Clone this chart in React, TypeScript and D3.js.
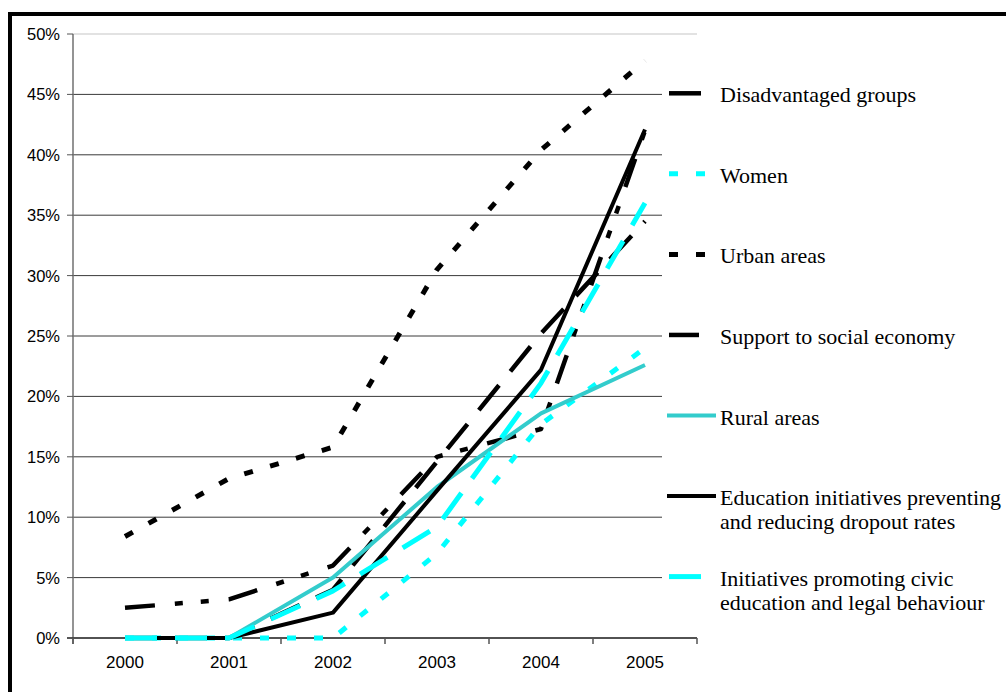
import React from "react";
import * as d3 from "d3";

// Years on the category axis
const years = ["2000", "2001", "2002", "2003", "2004", "2005"];

// Share of projects per priority theme (fractions)
const disadvantagedGroups = [0, 0, 0.04, 0.146, 0.252, 0.345];
const women = [0, 0, 0, 0.07, 0.177, 0.24];
const urbanAreas = [0.084, 0.132, 0.158, 0.305, 0.404, 0.478];
const socialEconomy = [0.025, 0.032, 0.06, 0.15, 0.173, 0.42];
const ruralAreas = [0, 0, 0.05, 0.125, 0.186, 0.226];
const educationDropout = [0, 0, 0.021, 0.122, 0.222, 0.421];
const civicEducation = [0, 0, 0.039, 0.092, 0.211, 0.36];

const yTicks = [0, 0.05, 0.1, 0.15, 0.2, 0.25, 0.3, 0.35, 0.4, 0.45, 0.5];

type Series = {
  name: string[];
  values: number[];
  color: string;
  width: number;
  dash: string | null;
  sampleFrom: number;
  sampleTo: number;
};

const series: Series[] = [
  { name: ["Disadvantaged groups"], values: disadvantagedGroups, color: "#000000", width: 4.5, dash: "32 18", sampleFrom: 669, sampleTo: 707 },
  { name: ["Women"], values: women, color: "#00FFFF", width: 5, dash: "9 18", sampleFrom: 669, sampleTo: 707 },
  { name: ["Urban areas"], values: urbanAreas, color: "#000000", width: 5, dash: "9 18", sampleFrom: 669, sampleTo: 707 },
  { name: ["Support to social economy"], values: socialEconomy, color: "#000000", width: 4.5, dash: "30 20 8 18 8 20", sampleFrom: 669, sampleTo: 707 },
  { name: ["Rural areas"], values: ruralAreas, color: "#33CCCC", width: 4, dash: null, sampleFrom: 667, sampleTo: 716 },
  { name: ["Education initiatives preventing", "and reducing dropout rates"], values: educationDropout, color: "#000000", width: 4, dash: null, sampleFrom: 667, sampleTo: 716 },
  { name: ["Initiatives promoting civic", "education and legal behaviour"], values: civicEducation, color: "#00FFFF", width: 5, dash: "32 18", sampleFrom: 669, sampleTo: 707 },
];

const W = 1006;
const H = 692;
const left = 73;
const right = 697;
const top = 34;
const bottom = 638;

export default function App() {
  const x = d3.scaleBand<string>().domain(years).range([left, right]).padding(0);
  const cx = (yr: string) => (x(yr) ?? 0) + x.bandwidth() / 2;
  const y = d3.scaleLinear().domain([0, 0.5]).range([bottom, top]);
  const fmt = d3.format(".0%");

  const line = d3
    .line<number>()
    .x((_, i) => cx(years[i]))
    .y((v) => y(v));

  const legendY0 = 93.3;
  const legendStep = 80.55;
  const tickBounds = [...years.map((yr) => x(yr) ?? 0), right];

  return (
    <svg
      width={W}
      height={H}
      style={{ position: "absolute", left: 0, top: 0, background: "#fff" }}
    >
      <rect x={0} y={0} width={W} height={H} fill="#fff" />

      {/* horizontal gridlines */}
      {yTicks.map((t) => (
        <line
          key={"g" + t}
          x1={left}
          x2={right}
          y1={y(t)}
          y2={y(t)}
          stroke={t === 0.5 ? "#e2e2e2" : "#3a3a3a"}
          strokeWidth={t === 0.5 ? 2 : 1}
        />
      ))}

      {/* y axis */}
      <line x1={left} x2={left} y1={top} y2={bottom + 6} stroke="#707070" strokeWidth={1.5} />
      {yTicks.map((t) => (
        <g key={"yt" + t}>
          <line x1={left - 6} x2={left} y1={y(t)} y2={y(t)} stroke="#555" strokeWidth={1} />
          <text
            x={60}
            y={y(t) + 6}
            textAnchor="end"
            fontFamily="Liberation Sans, Arial, sans-serif"
            fontSize={16.5}
            fill="#000"
          >
            {fmt(t)}
          </text>
        </g>
      ))}

      {/* x axis */}
      <line x1={left - 6} x2={right} y1={bottom} y2={bottom} stroke="#3a3a3a" strokeWidth={1.5} />
      {tickBounds.map((b, i) => (
        <line key={"xt" + i} x1={b} x2={b} y1={bottom} y2={bottom + 6} stroke="#555" strokeWidth={1.5} />
      ))}
      {years.map((yr) => (
        <text
          key={"xl" + yr}
          x={cx(yr)}
          y={668}
          textAnchor="middle"
          fontFamily="Liberation Sans, Arial, sans-serif"
          fontSize={17}
          fill="#000"
        >
          {yr}
        </text>
      ))}

      {/* legend background */}
      <rect x={662} y={52} width={344} height={570} fill="#fff" />

      {/* series lines */}
      {series.map((s, i) => (
        <path
          key={"s" + i}
          d={line(s.values) ?? ""}
          fill="none"
          stroke={s.color}
          strokeWidth={s.width}
          strokeDasharray={s.dash ?? undefined}
          strokeLinejoin="round"
        />
      ))}

      {/* legend */}
      {series.map((s, i) => {
        const ly = legendY0 + i * legendStep;
        return (
          <g key={"l" + i}>
            <line
              x1={s.sampleFrom}
              x2={s.sampleTo}
              y1={ly}
              y2={ly}
              stroke={s.color}
              strokeWidth={s.width}
              strokeDasharray={s.dash ?? undefined}
            />
            {s.name.map((txt, k) => (
              <text
                key={k}
                x={720}
                y={ly + 9 + k * 24}
                fontFamily="Liberation Serif, Times New Roman, serif"
                fontSize={22}
                fill="#000"
              >
                {txt}
              </text>
            ))}
          </g>
        );
      })}

      {/* outer frame */}
      <rect x={10} y={14} width={1010} height={700} fill="none" stroke="#000" strokeWidth={4} />
    </svg>
  );
}
